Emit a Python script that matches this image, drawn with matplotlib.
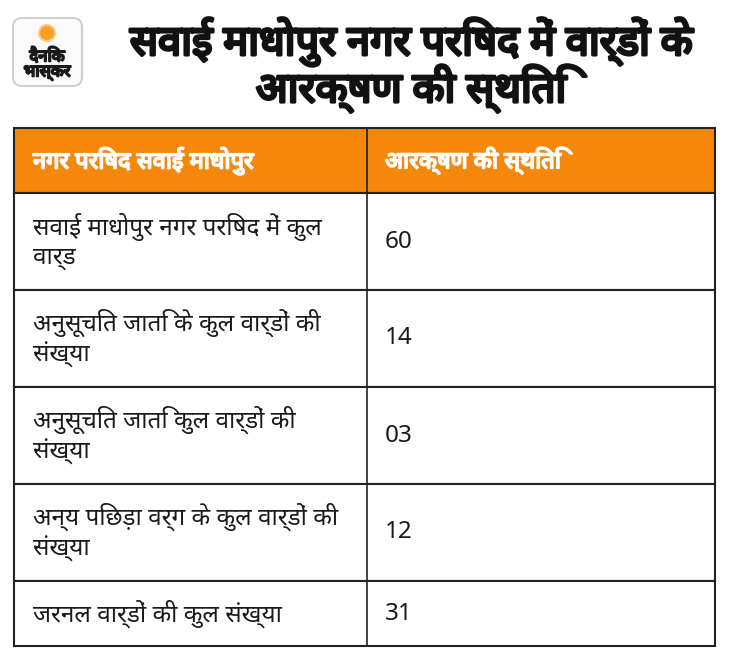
import matplotlib
matplotlib.use("Agg")
import matplotlib.pyplot as plt
import matplotlib.patheffects as pe
from matplotlib.patches import Rectangle, FancyBboxPatch, Circle

plt.rcParams['font.family'] = ['Noto Sans', 'DejaVu Sans']

TITLE_LINES = ["सवाई माधोपुर नगर परिषद में वार्डों के", "आरक्षण की स्थिति"]
HEADERS = ["नगर परिषद सवाई माधोपुर", "आरक्षण की स्थिति"]
CATEGORIES = [
    "सवाई माधोपुर नगर परिषद में कुल\nवार्ड",
    "अनुसूचित जाति के कुल वार्डों की\nसंख्या",
    "अनुसूचित जाति कुल वार्डों की\nसंख्या",
    "अन्य पिछड़ा वर्ग के कुल वार्डों की\nसंख्या",
    "जरनल वार्डों की कुल संख्या",
]
VALUES = ["60", "14", "03", "12", "31"]

ORANGE = "#f5870a"
BORDER = "#222222"
TEXT = "#1a1a1a"

# table geometry in pixels
left, mid, right = 14, 367, 715
header_top, header_bot = 128, 193
row_edges = [193, 290, 387, 484, 581, 646]


def heavy(width, color):
    # the devanagari fallback has no bold face, so thicken it with a stroke
    return [pe.withStroke(linewidth=width, foreground=color)]


fig = plt.figure(figsize=(7.3, 6.65), dpi=100)
ax = fig.add_axes([0, 0, 1, 1])
ax.set_xlim(0, 730)
ax.set_ylim(665, 0)
ax.axis("off")

# logo
ax.add_patch(FancyBboxPatch((13, 18), 69, 68, boxstyle="round,pad=0,rounding_size=9",
                            fc="#fafafa", ec="#d0d0d0", lw=1.5))
ax.add_patch(Circle((47, 33), 9, fc="#fbc98a", ec="none"))
ax.add_patch(Circle((47, 33), 7, fc="#f8a020", ec="none"))
ax.text(47, 57, "दैनिक", ha="center", va="center", fontsize=12, fontweight="bold",
        color=TEXT, path_effects=heavy(1.4, TEXT))
ax.text(47, 73, "भास्कर", ha="center", va="center", fontsize=12, fontweight="bold",
        color=TEXT, path_effects=heavy(1.4, TEXT))

# title
for y, line in zip([42, 89], TITLE_LINES):
    ax.text(411, y, line, ha="center", va="center", fontsize=30, fontweight="bold",
            color="#111111", path_effects=heavy(2.2, "#111111"))

# header row
ax.add_patch(Rectangle((left, header_top), right - left, header_bot - header_top,
                       fc=ORANGE, ec=BORDER, lw=1.5))
ax.plot([mid, mid], [header_top, header_bot], color=BORDER, lw=1.2)
hy = (header_top + header_bot) / 2
for x, label in zip([33, 385], HEADERS):
    ax.text(x, hy, label, ha="left", va="center", fontsize=17, fontweight="bold",
            color="white", path_effects=heavy(1.3, "white"))

# body rows
for i, (cat, val) in enumerate(zip(CATEGORIES, VALUES)):
    y0, y1 = row_edges[i], row_edges[i + 1]
    ax.add_patch(Rectangle((left, y0), right - left, y1 - y0, fc="white", ec=BORDER, lw=1.5))
    ax.plot([mid, mid], [y0, y1], color=BORDER, lw=1.2)
    yc = (y0 + y1) / 2
    ax.text(33, yc, cat, ha="left", va="center", fontsize=17.5, color=TEXT, linespacing=1.22)
    ax.text(385, yc, val, ha="left", va="center", fontsize=17.5, color=TEXT)

fig.savefig("out.png", dpi=100, facecolor="white")
